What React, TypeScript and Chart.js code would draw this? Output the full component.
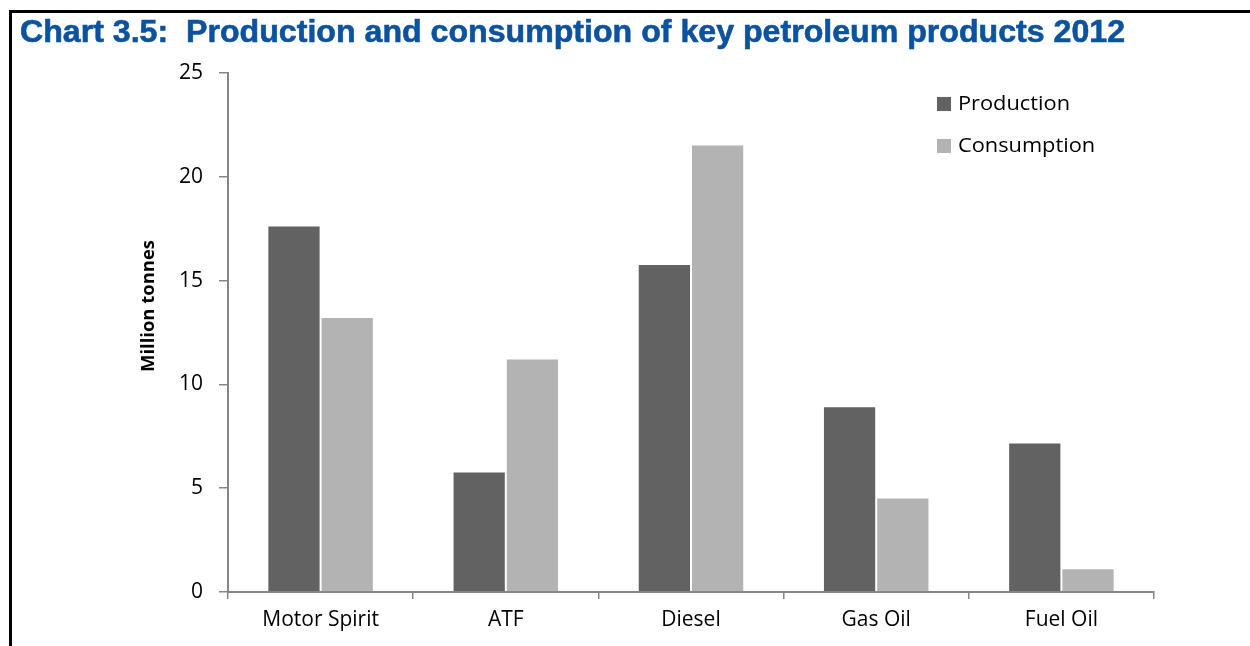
import React, { useEffect, useRef } from "react";
import { Chart, registerables } from "chart.js";

Chart.register(...registerables);

const categories = ["Motor Spirit", "ATF", "Diesel", "Gas Oil", "Fuel Oil"];
const production = [17.65, 5.8, 15.8, 8.95, 7.2];
const consumption = [13.25, 11.25, 21.55, 4.55, 1.15];
const seriesLabels = ["Production", "Consumption"];
const seriesColors = ["#626262", "#b3b3b3"];
const yMin = 0;
const yMax = 25;
const yStep = 5;
const titleText = "Chart 3.5:  Production and consumption of key petroleum products 2012";
const yAxisTitle = "Million tonnes";

const W = 1250;
const H = 646;
const tickFont = '"Open Sans", "Lato", sans-serif';

const decorPlugin = {
  id: "decor",
  afterDraw(chart: any) {
    const ctx = chart.ctx as CanvasRenderingContext2D;
    const area = chart.chartArea;
    // frame lines
    ctx.save();
    ctx.fillStyle = "#000";
    ctx.fillRect(9, 10, W - 9, 3);
    ctx.fillRect(9, 10, 3, H - 10);
    ctx.restore();

    // title
    ctx.save();
    ctx.font = 'bold 31px "Liberation Sans Narrow", "Liberation Sans", Arial, sans-serif';
    ctx.fillStyle = "#0b529f";
    ctx.strokeStyle = "#0b529f";
    ctx.lineWidth = 0.6;
    ctx.textBaseline = "alphabetic";
    ctx.textAlign = "left";
    const w = ctx.measureText(titleText).width;
    ctx.translate(20, 42);
    ctx.scale(1105 / w, 1);
    ctx.fillText(titleText, 0, 0);
    ctx.strokeText(titleText, 0, 0);
    ctx.restore();

    // y axis title
    ctx.save();
    ctx.font = "bold 18px " + tickFont;
    ctx.fillStyle = "#000";
    ctx.textAlign = "center";
    ctx.textBaseline = "middle";
    const tw = ctx.measureText(yAxisTitle).width;
    ctx.translate(area.left - 79, area.top + 233);
    ctx.rotate(-Math.PI / 2);
    ctx.scale(132 / tw, 1);
    ctx.fillText(yAxisTitle, 0, 0);
    ctx.restore();

    // legend
    ctx.save();
    ctx.font = "20px " + tickFont;
    ctx.textAlign = "left";
    ctx.textBaseline = "middle";
    const lw = ctx.measureText(chart.data.datasets[0].label).width;
    const ls = 112 / lw;
    chart.data.datasets.forEach((ds: any, i: number) => {
      const cy = area.top + 31 + i * 42;
      const sx = area.right - 217;
      ctx.fillStyle = ds.backgroundColor;
      ctx.fillRect(sx, cy - 7, 14, 14);
      ctx.fillStyle = "#000";
      ctx.save();
      ctx.translate(sx + 21, cy);
      ctx.scale(ls, 1);
      ctx.fillText(ds.label, 0, 0);
      ctx.restore();
    });
    ctx.restore();
  },
};

export default function App() {
  const ref = useRef<HTMLCanvasElement | null>(null);
  useEffect(() => {
    if (!ref.current) return;
    const chart = new Chart(ref.current, {
      type: "bar",
      data: {
        labels: categories,
        datasets: [
          {
            label: seriesLabels[0],
            data: production,
            backgroundColor: seriesColors[0],
            borderColor: "rgba(255,255,255,0.5)",
            borderWidth: 1,
            categoryPercentage: 0.575,
            barPercentage: 1,
          },
          {
            label: seriesLabels[1],
            data: consumption,
            backgroundColor: seriesColors[1],
            borderColor: "rgba(255,255,255,0.5)",
            borderWidth: 1,
            categoryPercentage: 0.575,
            barPercentage: 1,
          },
        ],
      },
      options: {
        responsive: false,
        animation: false,
        layout: { padding: { top: 73, right: 96, left: 0, bottom: 0 } },
        plugins: {
          legend: { display: false },
          title: { display: false },
          tooltip: { enabled: false },
        },
        scales: {
          x: {
            offset: true,
            grid: {
              offset: true,
              drawOnChartArea: false,
              drawTicks: true,
              tickLength: 7,
              color: "#868686",
              lineWidth: 1.5,
            },
            border: { display: true, color: "#868686", width: 2 },
            ticks: {
              color: "#000",
              font: { family: tickFont, size: 21 },
              padding: 8,
              maxRotation: 0,
            },
            afterFit(scale: any) {
              scale.height = 54;
            },
          },
          y: {
            min: yMin,
            max: yMax,
            grid: {
              drawOnChartArea: false,
              drawTicks: true,
              tickLength: 9,
              color: "#868686",
              lineWidth: 1.5,
            },
            border: { display: true, color: "#868686", width: 2 },
            ticks: {
              stepSize: yStep,
              color: "#000",
              font: { family: tickFont, size: 21 },
              padding: 16,
            },
            afterFit(scale: any) {
              scale.width = 228;
            },
          },
        },
      },
      plugins: [decorPlugin],
    } as any);
    return () => chart.destroy();
  }, []);
  return (
    <div style={{ position: "absolute", left: 0, top: 0, width: W, height: H, background: "#fff" }}>
      <canvas ref={ref} width={W} height={H} style={{ display: "block" }} />
    </div>
  );
}
